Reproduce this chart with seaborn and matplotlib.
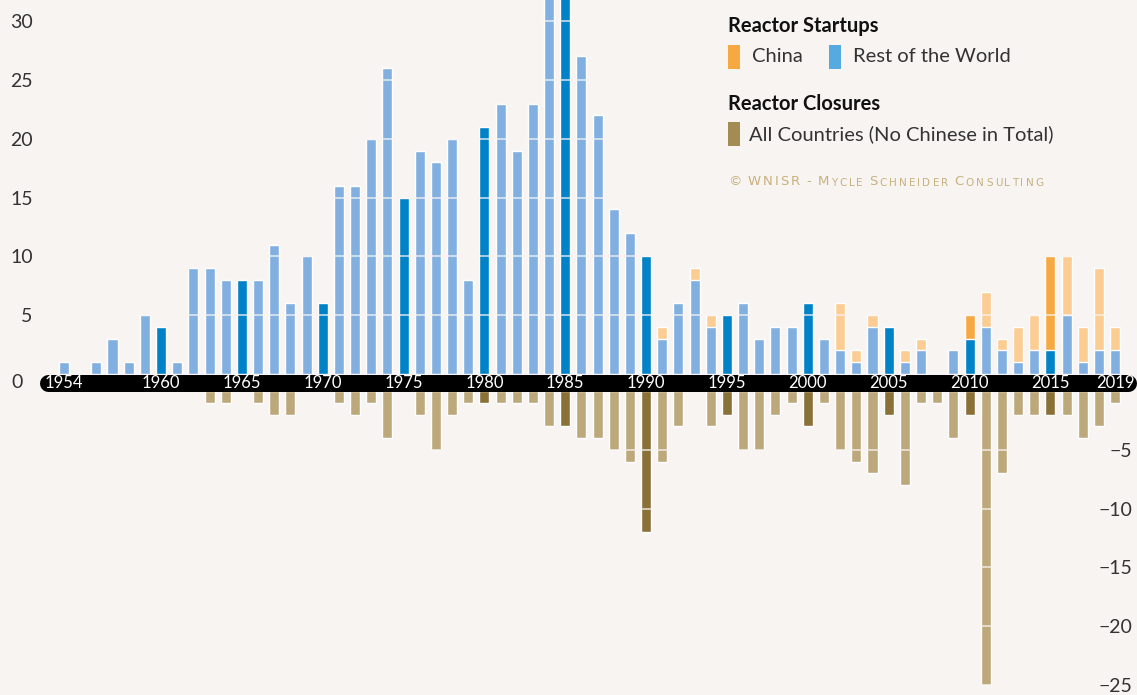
import numpy as np
import pandas as pd
import seaborn as sns
import matplotlib.pyplot as plt
from matplotlib.patches import Rectangle
from matplotlib.lines import Line2D
from matplotlib import transforms

sns.set_style("white")
plt.rcParams["font.family"] = ["Lato", "DejaVu Sans"]

years = list(range(1954, 2020))

# reactor startups, rest of the world (1954-2019)
rest_of_world = [
    1, 0, 1, 3, 1, 5, 4, 1, 9, 9,
    8, 8, 8, 11, 6, 10, 6, 16, 16, 20,
    26, 15, 19, 18, 20, 8, 21, 23, 19, 23,
    33, 33, 27, 22, 14, 12, 10, 3, 6, 8,
    4, 5, 6, 3, 4, 4, 6, 3, 2, 1,
    4, 4, 1, 2, 0, 2, 3, 4, 2, 1,
    2, 2, 5, 1, 2, 2,
]

# reactor startups in China
china = [
    0, 0, 0, 0, 0, 0, 0, 0, 0, 0,
    0, 0, 0, 0, 0, 0, 0, 0, 0, 0,
    0, 0, 0, 0, 0, 0, 0, 0, 0, 0,
    0, 0, 0, 0, 0, 0, 0, 1, 0, 1,
    1, 0, 0, 0, 0, 0, 0, 0, 4, 1,
    1, 0, 1, 1, 0, 0, 2, 3, 1, 3,
    3, 8, 5, 3, 7, 2,
]

# reactor closures, all countries
closures = [
    0, 0, 0, 0, 0, 0, 0, 0, 0, 1,
    1, 0, 1, 2, 2, 0, 0, 1, 2, 1,
    4, 0, 2, 5, 2, 1, 1, 1, 1, 1,
    3, 3, 4, 4, 5, 6, 12, 6, 3, 0,
    3, 2, 5, 5, 2, 1, 3, 1, 5, 6,
    7, 2, 8, 1, 1, 4, 2, 25, 7, 2,
    2, 2, 2, 4, 3, 1,
]

highlight_years = [1960, 1965, 1970, 1975, 1980, 1985, 1990, 1995, 2000, 2005, 2010, 2015]
band_years = [1954, 1960, 1965, 1970, 1975, 1980, 1985, 1990, 1995, 2000, 2005, 2010, 2015, 2019]

bg = "#f7f4f2"
ink = "#333333"
W, H = 1137, 695

df = pd.DataFrame({"year": years, "rest": rest_of_world, "china": china, "closed": closures})
df["total"] = df["rest"] + df["china"]
df["closed_neg"] = -df["closed"]
df["kind"] = np.where(df["year"].isin(highlight_years), "mark", "plain")

fig = plt.figure(figsize=(W / 100, H / 100), dpi=100, facecolor=bg)
# startups above the band, closures below it
ax_top = fig.add_axes([0, (H - 374) / H, 1, 374 / H])
ax_bot = fig.add_axes([0, 0, 1, 304 / H])

common = dict(x="year", hue="kind", native_scale=True, dodge=False, width=0.62,
              errorbar=None, legend=False, saturation=1, orient="x")
sns.barplot(data=df, y="total", palette={"plain": "#fccd93", "mark": "#f7a941"}, ax=ax_top, **common)
sns.barplot(data=df, y="rest", palette={"plain": "#81b0e0", "mark": "#0082c8"}, ax=ax_top, **common)
sns.barplot(data=df, y="closed_neg", palette={"plain": "#bda87b", "mark": "#8a7137"}, ax=ax_bot, **common)

px_unit = 11.76
for ax in (ax_top, ax_bot):
    ax.set_facecolor("none")
    ax.set_xlim(1954 - 64 / 16.17, 1954 + (W - 64) / 16.17)
    ax.set_xticks([])
    ax.set_xlabel("")
    ax.set_ylabel("")
    for s in ax.spines.values():
        s.set_visible(False)
    ax.set_axisbelow(False)
    # background-coloured grid only shows where it crosses a bar
    ax.yaxis.grid(True, color=bg, lw=1.2, alpha=0.8)

ax_top.set_ylim(0, 374 / px_unit)
ax_top.set_yticks([5, 10, 15, 20, 25, 30])
ax_top.tick_params(axis="y", length=0, pad=-23.5, labelsize=14, labelcolor=ink)

ax_bot.set_ylim(-304 / px_unit, 0)
ax_bot.yaxis.tick_right()
ax_bot.set_yticks([-5, -10, -15, -20, -25])
ax_bot.tick_params(axis="y", length=0, pad=-3.5, labelsize=14, labelcolor=ink)
plt.setp(ax_bot.get_yticklabels(), ha="right")

# black year band
yc = (H - 382.5) / H
fig.add_artist(Line2D([47.5 / W, 1127.5 / W], [yc, yc], transform=fig.transFigure,
                      color="black", lw=17 * 0.72, solid_capstyle="round", zorder=2))
band_tr = transforms.blended_transform_factory(ax_top.transData, fig.transFigure)
for yr in band_years:
    fig.text(yr, yc, str(yr), transform=band_tr, ha="center", va="center",
             color="white", fontsize=12, zorder=3)
fig.text(17 / W, yc, "0", ha="center", va="center", fontsize=14, color=ink)

# legend
def fx(x):
    return x / W

def fy(y):
    return 1 - y / H

def swatch(x, y, color):
    fig.add_artist(Rectangle((fx(x), fy(y + 24)), 12 / W, 24 / H, transform=fig.transFigure,
                             color=color, lw=0))

fig.text(fx(728), fy(26), "Reactor Startups", fontsize=14.5, weight="bold", va="center", color="#111111")
swatch(728, 45, "#f7a941")
fig.text(fx(752), fy(57), "China", fontsize=14.5, va="center", color=ink)
swatch(829, 45, "#55aae0")
fig.text(fx(853), fy(57), "Rest of the World", fontsize=14.5, va="center", color=ink)
fig.text(fx(728), fy(104), "Reactor Closures", fontsize=14.5, weight="bold", va="center", color="#111111")
swatch(728, 122, "#a38c54")
fig.text(fx(749), fy(134), "All Countries (No Chinese in Total)", fontsize=14.5, va="center", color=ink)

# copyright line, letter-spaced small caps
gold = "#c8b17f"
credit = "© WNISR - Mycle Schneider Consulting"
t = None
extra = 0
for ch in credit:
    if ch == " ":
        extra += 3.0
        continue
    size = 7.5 if ch.islower() else 9.5
    if t is None:
        t = fig.text(fx(728), fy(188), ch.upper(), fontsize=size, color=gold, va="bottom",
                     family="DejaVu Sans")
    else:
        t = ax_top.annotate(ch.upper(), xy=(1, 0), xycoords=t, xytext=(1.5 + extra, 0),
                            textcoords="offset points", va="bottom", ha="left", fontsize=size,
                            color=gold, family="DejaVu Sans", annotation_clip=False)
    extra = 0

fig.savefig("out.png", dpi=100, facecolor=bg)
